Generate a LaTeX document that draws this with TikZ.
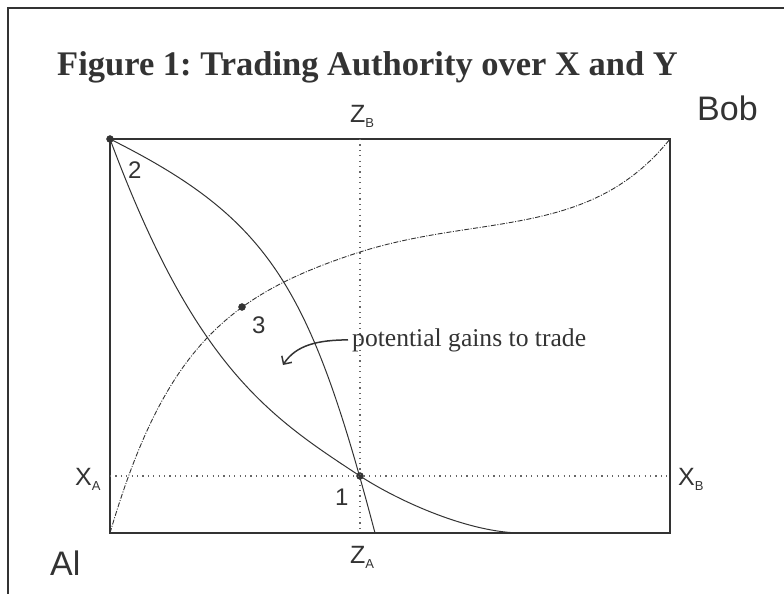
\documentclass[tikz,border=0pt]{standalone}
\usepackage{fontspec}
\setmainfont{Liberation Serif}
\setsansfont{Liberation Sans}
\usetikzlibrary{arrows.meta}
\usetikzlibrary{positioning}
\definecolor{c1}{rgb}{0.20, 0.20, 0.20}
\definecolor{c2}{rgb}{0.40, 0.40, 0.40}
\newcommand{\lowsub}[1]{\raisebox{-5pt}{\fontsize{13}{13}\selectfont #1}}
\tikzstyle{vertex}=[circle, draw=c1, fill=c1, minimum size=7pt, inner sep=0pt]
\tikzset{
  lbl/.style={inner sep=0pt, anchor=base west, text=c1, font=\sffamily\fontsize{25}{25}\selectfont},
  lbl_big/.style={lbl, font=\sffamily\fontsize{34}{34}\selectfont},
  lbl_num/.style={lbl, font=\sffamily\fontsize{24}{24}\selectfont},
  frame/.style={c1, line width=1.6pt},
  edge_box/.style={c1, line width=1.3pt},
  edge_dot/.style={c2, line width=1.2pt, dash pattern=on 1.2pt off 4.2pt},
  edge_ic/.style={c1, line width=1pt},
  edge_cc/.style={c1, line width=0.9pt, dash pattern=on 5pt off 1.5pt on 1pt off 1.5pt},
  edge_arr/.style={-{Straight Barb[length=6pt, width=12pt]}, c1, line width=1.5pt},
}

\begin{document}
\begin{tikzpicture}[x=1pt, y=-1pt]
    \useasboundingbox (0,0) rectangle (784,594);
    \draw[frame] (784,8) -- (8,8) -- (8,594);

    \node[inner sep=0pt, anchor=base west, text=c1, font=\bfseries\fontsize{34.5}{34.5}\selectfont] (title) at (57,75) {\frenchspacing Figure 1: Trading Authority over X and Y};

    % the box
    \coordinate (bl) at (110,533);
    \coordinate (tr) at (670,139);
    \draw[edge_box] (bl) rectangle (tr);

    \node[vertex] (c2) at (110,139){};
    \node[vertex] (c1) at (360,476){};
    \node[vertex] (c3) at (242,307){};

    \coordinate (zTop) at (360,139);
    \coordinate (zBot) at (360,533);
    \coordinate (xLeft) at (110,476);
    \coordinate (xRight) at (670,476);
    \draw[edge_dot] (zTop) -- (zBot);
    \draw[edge_dot] (xLeft) -- (xRight);

    % indifference curves through 1 and 2
    \draw[edge_ic] (c2.center) .. controls (195,368) and (270,417) .. (c1.center)
                   .. controls (400,502) and (470,533) .. (522,533);
    \draw[edge_ic] (c2.center) .. controls (270,219) and (310,286) .. (375,533);
    % contract curve
    \draw[edge_cc] (bl) .. controls (165,346) and (230,294) .. (360,252)
                   .. controls (480,214) and (590,239) .. (tr);

    \node[lbl] (zb) at (350,122) {Z\lowsub{B}};
    \node[lbl] (za) at (350,563) {Z\lowsub{A}};
    \node[lbl] (xa) at (75,485) {X\lowsub{A}};
    \node[lbl] (xb) at (678,485) {X\lowsub{B}};
    \node[lbl_big] (bob) at (697,120) {Bob};
    \node[lbl_big] (al) at (50,575) {Al};

    \node[lbl_num] (n2) at (128,178) {2};
    \node[lbl_num] (n3) at (252,333) {3};
    \node[lbl_num] (n1) at (335,505) {1};

    \node[inner sep=0pt, anchor=base west, text=c1, font=\fontsize{25.6}{25.6}\selectfont] (gains) at (352,346) {potential gains to trade};
    \coordinate (tip) at (283,365);
    \draw[edge_arr] ([xshift=-4pt]gains.west) .. controls (318,340) and (296,345) .. (tip);

  \end{tikzpicture}
\end{document}
